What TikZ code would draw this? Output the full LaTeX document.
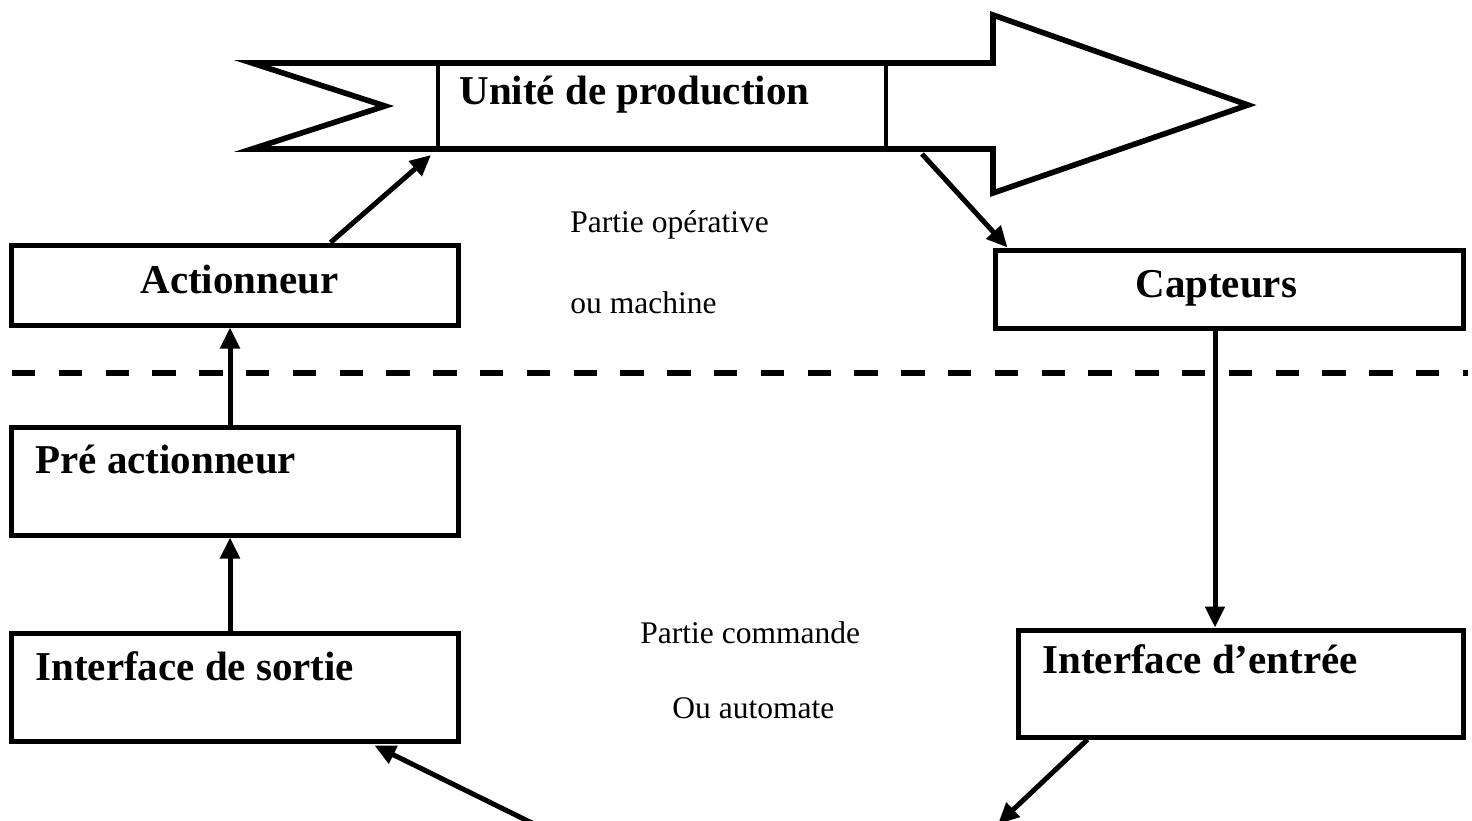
\documentclass[tikz,border=0pt]{standalone}
\usepackage{fontspec}
\setmainfont{Liberation Serif}
\usetikzlibrary{arrows.meta}
\tikzset{
  box/.style={draw, line width=2.5pt, inner sep=0pt, minimum width=223.5pt},
  bold/.style={font=\fontsize{20.5}{24}\selectfont\bfseries, inner sep=0pt, anchor=base west},
  reg/.style={font=\fontsize{15.75}{19}\selectfont, inner sep=0pt, anchor=base west},
  arr/.style={line width=2.5pt, -{Triangle[length=10.5pt,width=9.5pt]}},
}
\begin{document}
\begin{tikzpicture}[x=0.5pt,y=-0.5pt]
\useasboundingbox (0,0) rectangle (1472,820);
% big arrow
\node[draw, line width=2pt, minimum width=224pt, minimum height=43pt, inner sep=0pt] (unite) at (662,106) {};
\draw[line width=2.8pt, line join=miter] (252,63) -- (993,63) -- (993,15) -- (1248,105) -- (993,193) -- (993,149) -- (252,149) -- (385,106) -- cycle;
\node[bold] (tu) at (459,104) {Unité de production};
% boxes
\node[box, minimum height=40pt] (act) at (234.5,285) {};
\node[bold] (tact) at (140,293) {Actionneur};
\node[box, minimum width=234pt, minimum height=39pt] (cap) at (1229,289) {};
\node[bold] (tcap) at (1135,297) {Capteurs};
\node[box, minimum height=54pt] (pre) at (234.5,481) {};
\node[bold] (tpre) at (35,473) {Pré actionneur};
\node[box, minimum height=54pt] (sortie) at (234.5,687) {};
\node[bold] (tsortie) at (35,680) {Interface de sortie};
\node[box, minimum width=222.5pt, minimum height=53.5pt] (entree) at (1240.5,683.5) {};
\node[bold] (tentree) at (1042,673) {Interface d’entrée};
% middle texts
\node[reg] (po) at (570,232) {Partie opérative};
\node[reg] (om) at (570,313) {ou machine};
\node[reg] (pc) at (640,643) {Partie commande};
\node[reg] (oa) at (672,718) {Ou automate};
% dashed separator
\draw[line width=3.2pt, dash pattern=on 11.7pt off 11.7pt] (12,373) -- (1468,373);
% connectors
\coordinate (e1) at (998,824);
\coordinate (s1) at (534,824);
\draw[arr] ([xshift=161pt]act.north west) -- ([xshift=-2.5pt,yshift=-2pt]unite.south west);
\draw[arr] ([xshift=17pt,yshift=-1.5pt]unite.south east) -- ([xshift=7.5pt]cap.north west);
\draw[arr] ([xshift=-2.25pt]pre.north) -- ([xshift=-2.25pt]pre.north |- act.south);
\draw[arr] ([xshift=-2.25pt]sortie.north) -- ([xshift=-2.25pt]sortie.north |- pre.south);
\draw[arr] ([xshift=-7pt]cap.south) -- ([xshift=-7pt]cap.south |- entree.north);
\draw[arr] ([xshift=36pt]entree.south west) -- (e1);
\draw[arr] (s1) -- ([xshift=-43pt,yshift=-1pt]sortie.south east);
\end{tikzpicture}
\end{document}
